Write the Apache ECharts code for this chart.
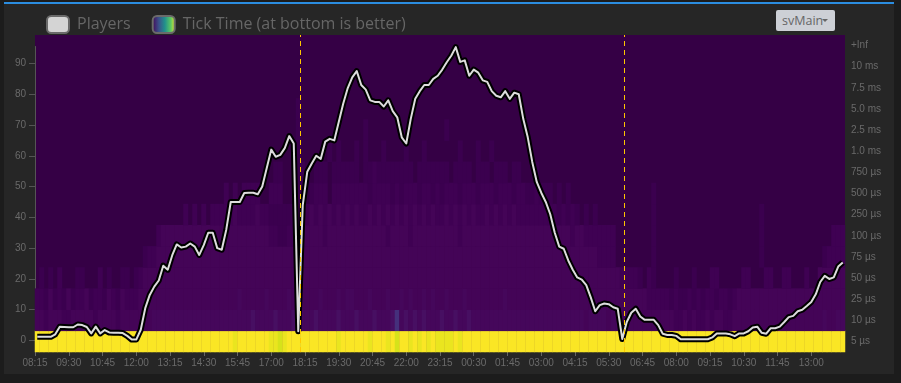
<!DOCTYPE html>
<html><head><meta charset="utf-8">
<script src="https://cdn.jsdelivr.net/npm/echarts@6/dist/echarts.min.js"></script>
<style>
html,body{margin:0;padding:0;background:#1c1c1c;width:901px;height:383px;overflow:hidden;}
#panel{position:absolute;left:4px;top:2px;width:890px;height:372px;background:#262626;border-top:2px solid #2b8de0;box-sizing:border-box;}
#chart{position:absolute;left:0;top:0;width:901px;height:383px;}
#dd{position:absolute;left:776px;top:10px;width:59px;height:21px;background:#cdd0d6;border-radius:2px;font:12.5px "Open Sans",sans-serif;color:#666;line-height:21px;padding-left:6px;box-sizing:border-box;}
#dd .caret{position:absolute;left:46px;top:9px;border-left:3.5px solid transparent;border-right:3.5px solid transparent;border-top:3.5px solid #666;width:0;height:0;}
</style></head>
<body><div id="panel"></div><div id="chart"></div><div id="dd">svMain<span class="caret"></span></div>
<script>
// X tick labels (every 75 minutes, starting 08:15)
const timeLabels = ['08:15','09:30','10:45','12:00','13:15','14:30','15:45','17:00','18:15','19:30','20:45','22:00','23:15','00:30','01:45','03:00','04:15','05:30','06:45','08:00','09:15','10:30','11:45','13:00'];
// Tick-time buckets (bottom to top)
const rowLabels = ['5 µs','10 µs','25 µs','50 µs','75 µs','100 µs','250 µs','500 µs','750 µs','1.0 ms','2.5 ms','5.0 ms','7.5 ms','10 ms','+Inf'];
// Restart markers
const restartTimes = ['18:05','06:05'];
// Players per 10-minute bin
const players = [
1.2,1.2,1.2,1.2,2.0,4.5,4.4,4.3,4.3,5.2,
5.0,4.4,2.3,4.5,2.3,3.4,2.6,2.5,2.5,2.4,
1.5,0.3,0.3,3.5,10.5,14.8,17.5,19.5,24.3,23,
27.7,31.2,30.2,30.5,31.5,30.5,27.8,31,35,35,
30,29.5,36,45,45,45,47.9,48,48,47.5,
50,56,62,59.7,60.3,62.5,66.4,64,3,44,
54.8,57.5,60,59,64.6,65.5,65,71,77,82,
85.5,87.5,83,81.5,78,77.5,77.5,76,78,74.5,
72.5,66,64,72,78.5,81,83,83,85,86,
88,90.4,92.5,95.3,90.5,91,86,88,87,84.5,
84,81,79.5,79,81,78.5,80.5,80,72,66,
58,51.5,48,45,41,35,30.5,29.8,26,23,
20.5,19.8,18,14,9.5,11.5,12,11.8,10.8,10.3,
0.5,6,9,10.3,7.8,6.7,6.7,6.7,5,2.2,
1.8,1.8,1.5,0.4,0.4,0.4,0.4,0.4,0.4,0.4,
1.0,2.3,2.3,2.3,2.0,1.4,2.3,2.3,3.0,4.2,
4.5,2.5,2.2,4,4,4.5,6,7.6,8,9.5,
10,11.2,12.5,15,19,21,20,20.5,24,25.3
];
// Heatmap intensity levels per 10-minute bin (0 = empty), one string per bucket
const heat5us  = "9999999999 9999999999 9999999999 9999999999 9999899999 9988789999 9999999899 9999899989 7998989898 8889899999 9999999999 9999999999 9999999999 9999999999 9999999999 9999999999 9999999999 9999999999";
const heat10us = "3323332233 3332333323 3333334444 4444444444 4444444454 4445444544 4454444544 4544454445 6454545444 5445445444 4444444444 4444444444 4434444344 3333333333 3322323223 2332233333 3333333333 3333343344";
const heat25us = "2213121312 2312213213 2223333333 3333333333 3333343333 3433334343 3334333434 4333433343 3434334343 3433343333 3333433333 3333333333 3333333333 3333332222 2121121212 2122123333 3333333333 3333333333";
const heat50us = "0101020001 1000201001 1012333333 3333333333 3333333333 3333333333 3333333333 3333333333 3333333333 3333333333 3333333333 3333333333 3333333333 2222102100 0010001000 2200000220 0022002200 0200333333";
const heat75us = "0000000000 0000000000 0000122333 3333333333 3333333333 3333333333 3333333333 3333333333 3333333333 3333333333 3333333333 3333333333 3333322220 0000000100 0000000000 0000000000 0100000000 0000012222";
const heat100us= "0000000000 0000000000 0000000233 3333333333 3333333333 3322112223 3333233333 3333333323 3332333333 3333233333 3333333333 3333333332 3322222220 0000000100 0000000000 0000000000 0100000000 0000000222";
const heat250us= "0000000000 0000000000 0000000000 0002020202 2222322223 2211111222 2323232323 2322323232 3232323232 2323232322 3232323222 2222221212 1010100000 0000000100 0000000000 0000000000 0100000000 0000000000";
const heat500us= "0000000000 0000000000 0000000000 0000000000 0020202222 0022200012 0122202222 2222122221 2122212212 1222122212 2212221221 1211101010 0000000000 0000000100";
const heat750us= "0000000000 0000000000 0000000000 0000000000 0000000000 0001100011 0011101111 1101121111 1111011111 1101111011 1011101100 0100000000";
const heat1ms  = "0000000000 0000000000 0000000000 0000000000 0000000000 0000000010 0000010100 0101000100 0010001000 0000100010 0100000000";
const heat2_5ms= "0000000000 0000000000 0000000000 0000000000 0000000000 0000000010 0000000000 0001000000 0000000000 0100000000";
const heat5ms  = "0000000000 0000000000 0000000000 0000000000 0000000000 0000000010";
const heat7_5ms= "";
const heat10ms = "";
const heatInf  = "";
const heatRows = [heat5us,heat10us,heat25us,heat50us,heat75us,heat100us,heat250us,heat500us,heat750us,heat1ms,heat2_5ms,heat5ms,heat7_5ms,heat10ms,heatInf];
const levelColors = ['#3b004f','#3f0153','#440457','#45075b','#470f62','#45307c','#d6e21a','#eae51f','#fae625'];

const BIN = 10, START = 8*60+15, SPAN = timeLabels.length*75;
const binCats = players.map((_, i) => { const m = (START + i*BIN) % 1440; return String(Math.floor(m/60)).padStart(2,'0') + ':' + String(m%60).padStart(2,'0'); });
const heatData = [];
heatRows.forEach((s, r) => {
  const str = s.replace(/ /g,'').padEnd(binCats.length,'0');
  for (let c = 0; c < binCats.length; c++) { const v = +str[c]; if (v > 0) heatData.push([c, r, v]); }
});
const toOffset = t => { const [h, m] = t.split(':').map(Number); return ((h*60+m - START) % 1440 + 1440) % 1440; };
const tickValues = timeLabels.map((_, i) => i*75);

const chart = echarts.init(document.getElementById('chart'), null, {renderer:'canvas'});
const axisFont = {color:'#6a6a6a', fontSize:10, fontFamily:'"Liberation Sans", Arial, sans-serif'};
chart.setOption({
  animation:false,
  backgroundColor:'transparent',
  legend:{
    left:41, top:10, itemWidth:22, itemHeight:17, itemGap:21,
    textStyle:{color:'#666', fontSize:16, fontFamily:'"Open Sans", sans-serif', padding:[0,0,0,3]},
    selectedMode:false,
    data:[
      {name:'Players', icon:'roundRect', itemStyle:{color:'#d4d4d4', borderColor:'#6a6a6a', borderWidth:2}},
      {name:'Tick Time (at bottom is better)', icon:'roundRect', itemStyle:{
        color:new echarts.graphic.LinearGradient(0,0,1,0,[{offset:0,color:'#440154'},{offset:0.3,color:'#3b528b'},{offset:0.55,color:'#21918c'},{offset:0.8,color:'#5ec962'},{offset:1,color:'#fde725'}]),
        borderColor:'#6a6a6a', borderWidth:2}}
    ]
  },
  grid:[
    {left:35, right:56, top:35, bottom:31, show:true, backgroundColor:'#350045', borderWidth:0},
    {left:35, right:56, top:46.5, bottom:42.5}
  ],
  visualMap:{type:'piecewise', show:false, seriesIndex:0, dimension:2,
    pieces: levelColors.map((c, i) => ({value:i+1, color:c}))},
  xAxis:[
    {type:'category', gridIndex:0, data:binCats, show:false},
    {type:'value', gridIndex:0, min:0, max:SPAN, position:'bottom',
      axisLine:{show:false}, splitLine:{show:false},
      axisTick:{show:true, length:4, lineStyle:{color:'#666'}, customValues:tickValues},
      axisLabel:Object.assign({margin:6, customValues:tickValues, formatter:v => timeLabels[Math.round(v/75)] || ''}, axisFont)},
    {type:'category', gridIndex:1, data:binCats, show:false}
  ],
  yAxis:[
    {type:'category', gridIndex:0, data:rowLabels, position:'right',
      axisLine:{show:false}, axisTick:{show:false}, splitLine:{show:false},
      axisLabel:Object.assign({margin:6}, axisFont)},
    {type:'value', gridIndex:1, min:0, max:95.5, interval:10, position:'left',
      axisLine:{show:true, lineStyle:{color:'#555'}}, axisTick:{show:true, length:6, lineStyle:{color:'#555'}},
      splitLine:{show:false},
      axisLabel:Object.assign({margin:9, showMaxLabel:false}, axisFont)}
  ],
  series:[
    {name:'Tick Time (at bottom is better)', type:'heatmap', xAxisIndex:0, yAxisIndex:0, data:heatData, silent:true, progressive:0, emphasis:{disabled:true}},
    {name:'PlayersOutline', type:'line', xAxisIndex:2, yAxisIndex:1, data:players, showSymbol:false, silent:true, z:3,
      itemStyle:{color:'#000'}, lineStyle:{color:'#000', width:6, join:'round'}},
    {name:'Players', type:'line', xAxisIndex:2, yAxisIndex:1, data:players, showSymbol:false, silent:true, z:4,
      itemStyle:{color:'#dddddd'}, lineStyle:{color:'#dddddd', width:2, join:'round'}},
    {name:'Restarts', type:'line', xAxisIndex:1, yAxisIndex:0, data:[], z:10, silent:true,
      markLine:{silent:true, symbol:'none', animation:false, label:{show:false},
        lineStyle:{color:'#ffc800', type:[5,4], width:1, opacity:1},
        data: restartTimes.map(t => ({xAxis: toOffset(t)}))}}
  ]
});
</script></body></html>
